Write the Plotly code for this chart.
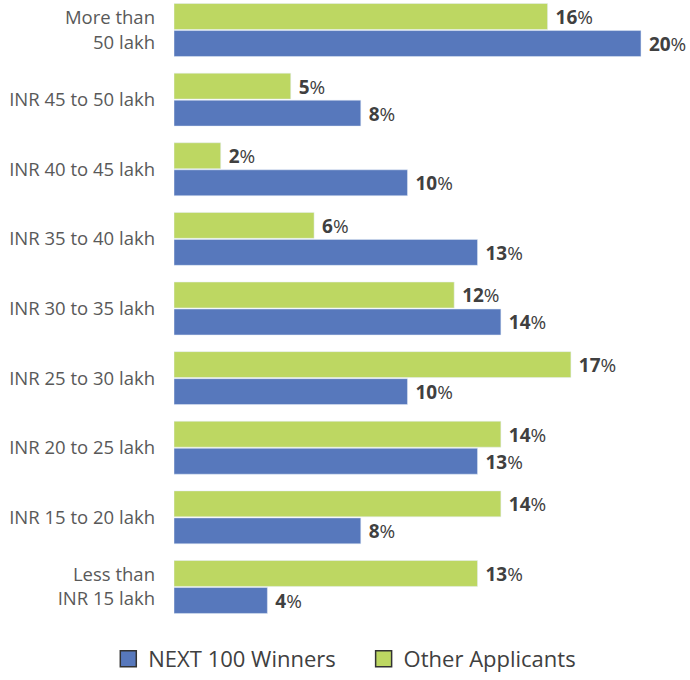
import plotly.graph_objects as go

categories = ["Less than<br>INR 15 lakh", "INR 15 to 20 lakh", "INR 20 to 25 lakh",
              "INR 25 to 30 lakh", "INR 30 to 35 lakh", "INR 35 to 40 lakh",
              "INR 40 to 45 lakh", "INR 45 to 50 lakh", "More than<br>50 lakh"]
next100 = [4, 8, 13, 10, 14, 13, 10, 8, 20]
others = [13, 14, 14, 17, 12, 6, 2, 5, 16]
series_names = ["NEXT 100 Winners", "Other Applicants"]

BLUE = "#5778bc"
GREEN = "#bdd762"
FONT = "Open Sans"

def lbl(vals):
    return [f" <b>{v}</b>%" for v in vals]

fig = go.Figure()
fig.add_trace(go.Bar(y=categories, x=next100, orientation="h", marker_color=BLUE,
                     text=lbl(next100), textposition="outside", cliponaxis=False,
                     textfont=dict(size=20.5, color="#404040", family=FONT),
                     showlegend=False, name=series_names[0]))
fig.add_trace(go.Bar(y=categories, x=others, orientation="h", marker_color=GREEN,
                     text=lbl(others), textposition="outside", cliponaxis=False,
                     textfont=dict(size=20.5, color="#404040", family=FONT),
                     showlegend=False, name=series_names[1]))
legend_labels = [series_names[0] + "\u00a0\u00a0\u00a0\u00a0", series_names[1]]
for nm, col in zip(legend_labels, [BLUE, GREEN]):
    fig.add_trace(go.Scatter(x=[None], y=[None], mode="markers", name=nm,
                             marker=dict(symbol="square", size=16, color=col,
                                         line=dict(width=1.5, color="#333333"))))

fig.update_layout(
    width=690, height=680,
    margin=dict(l=174, r=0, t=0, b=0),
    barmode="group", bargap=0.224, bargroupgap=0.04,
    plot_bgcolor="white", paper_bgcolor="white",
    font=dict(family=FONT, color="#595959"),
    xaxis=dict(range=[0, 22.1], visible=False),
    yaxis=dict(type="category", categoryorder="array", categoryarray=categories,
               domain=[58 / 680, 1],
               range=[-0.503, 8.431], showgrid=False, showline=False, ticks="",
               ticklabelstandoff=18, tickfont=dict(size=18.5, color="#595959", family=FONT)),
    legend=dict(orientation="h", x=0.331, xanchor="center", y=0, yanchor="bottom",
                font=dict(size=22, color="#404040", family=FONT), itemwidth=30,
                tracegroupgap=0, bgcolor="rgba(0,0,0,0)"),
)
fig.write_html("out.html", config={"displayModeBar": False},
               post_script="document.body.style.margin='0';")
